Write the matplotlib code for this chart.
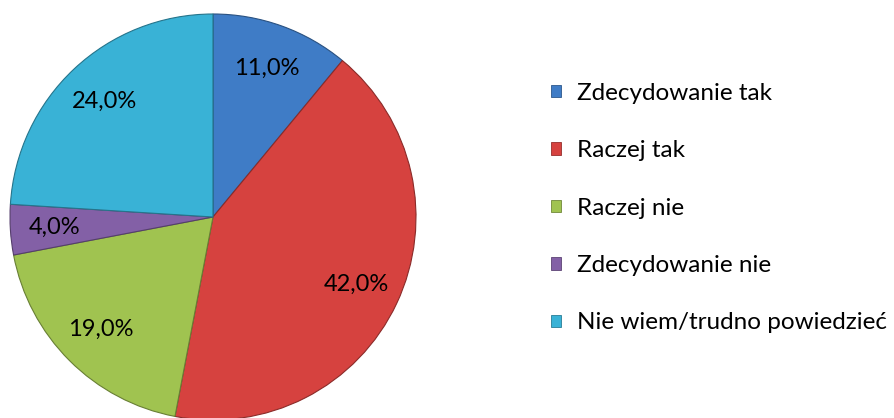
import matplotlib
matplotlib.use("Agg")
import matplotlib.pyplot as plt
from matplotlib.patches import Patch
import matplotlib.colors as mcolors

categories = ["Zdecydowanie tak", "Raczej tak", "Raczej nie", "Zdecydowanie nie", "Nie wiem/trudno powiedzieć"]
values = [11.0, 42.0, 19.0, 4.0, 24.0]
colors = ["#3F7CC6", "#D6423F", "#A0C350", "#8360A6", "#39B2D6"]

plt.rcParams['font.family'] = ['Lato', 'DejaVu Sans']

W, H = 894, 418
fig = plt.figure(figsize=(W / 100, H / 100), dpi=100)
cx, cy, r = 213, 217, 203
ax = fig.add_axes([(cx - r) / W, (H - cy - r) / H, 2 * r / W, 2 * r / H])

def darker(c, f=0.7):
    rgb = mcolors.to_rgb(c)
    return tuple(v * f for v in rgb)

wedges, texts, autotexts = ax.pie(
    values, colors=colors, startangle=90, counterclock=False,
    autopct=lambda p: f"{p:.1f}%".replace(".", ","), pctdistance=0.78,
    radius=1.0, textprops=dict(fontsize=17, color="black"),
    wedgeprops=dict(linewidth=0.8))
for w, c in zip(wedges, colors):
    w.set_edgecolor(darker(c, 0.65))
ax.set_xlim(-1, 1)
ax.set_ylim(-1, 1)
ax.set_aspect("equal")
ax.axis("off")

fs = 17.5
px = fs * 100 / 72
handles = [Patch(facecolor=c, edgecolor=darker(c, 0.7), linewidth=0.6) for c in colors]
fig.legend(handles, categories, loc="center left",
           bbox_to_anchor=(551 / W, (H - 208) / H), frameon=False,
           fontsize=fs, handlelength=10 / px, handleheight=10 / px,
           handletextpad=16 / px, labelspacing=(58.5 - px + 2.3) / px,
           borderpad=0, borderaxespad=0)

fig.savefig("out.png", dpi=100)
